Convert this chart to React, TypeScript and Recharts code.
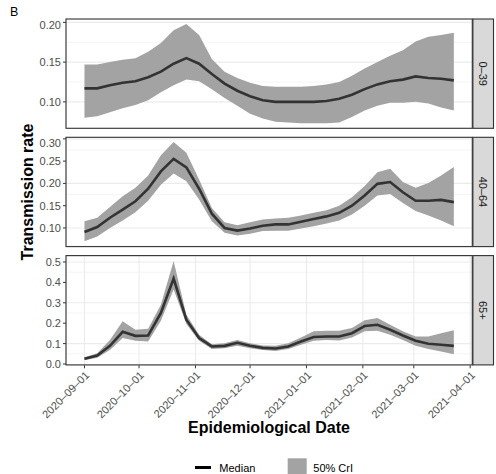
import { ComposedChart, Area, Line, XAxis, YAxis, CartesianGrid } from 'recharts';

// weekly estimates, 2020-09-01 .. 2021-03-23
const dates = [
  '2020-09-01', '2020-09-08', '2020-09-15', '2020-09-22', '2020-09-29', '2020-10-06',
  '2020-10-13', '2020-10-20', '2020-10-27', '2020-11-03', '2020-11-10', '2020-11-17',
  '2020-11-24', '2020-12-01', '2020-12-08', '2020-12-15', '2020-12-22', '2020-12-29',
  '2021-01-05', '2021-01-12', '2021-01-19', '2021-01-26', '2021-02-02', '2021-02-09',
  '2021-02-16', '2021-02-23', '2021-03-02', '2021-03-09', '2021-03-16', '2021-03-23',
];
const monthTicks = [
  '2020-09-01', '2020-10-01', '2020-11-01', '2020-12-01',
  '2021-01-01', '2021-02-01', '2021-03-01', '2021-04-01',
];

const median0to39 = [0.117, 0.117, 0.121, 0.124, 0.126, 0.131, 0.138, 0.148, 0.155, 0.148, 0.135, 0.123, 0.114, 0.107, 0.102, 0.100, 0.100, 0.100, 0.100, 0.101, 0.104, 0.109, 0.116, 0.122, 0.126, 0.128, 0.132, 0.130, 0.129, 0.127];
const upper0to39 = [0.147, 0.147, 0.150, 0.153, 0.155, 0.163, 0.174, 0.190, 0.198, 0.184, 0.154, 0.138, 0.130, 0.124, 0.120, 0.119, 0.119, 0.119, 0.120, 0.122, 0.125, 0.133, 0.142, 0.150, 0.158, 0.165, 0.176, 0.182, 0.184, 0.187];
const lower0to39 = [0.080, 0.082, 0.087, 0.092, 0.096, 0.102, 0.112, 0.121, 0.128, 0.126, 0.116, 0.105, 0.095, 0.085, 0.079, 0.075, 0.074, 0.073, 0.073, 0.073, 0.074, 0.081, 0.089, 0.095, 0.099, 0.099, 0.100, 0.098, 0.093, 0.089];

const median40to64 = [0.091, 0.102, 0.123, 0.141, 0.160, 0.188, 0.227, 0.255, 0.236, 0.188, 0.132, 0.100, 0.094, 0.099, 0.105, 0.108, 0.108, 0.114, 0.120, 0.126, 0.134, 0.150, 0.173, 0.199, 0.203, 0.180, 0.161, 0.161, 0.163, 0.158];
const upper40to64 = [0.115, 0.123, 0.147, 0.171, 0.190, 0.218, 0.263, 0.293, 0.269, 0.209, 0.145, 0.113, 0.106, 0.113, 0.119, 0.121, 0.123, 0.128, 0.134, 0.140, 0.150, 0.169, 0.194, 0.225, 0.233, 0.203, 0.190, 0.201, 0.218, 0.237];
const lower40to64 = [0.070, 0.081, 0.100, 0.117, 0.135, 0.161, 0.197, 0.222, 0.205, 0.164, 0.115, 0.089, 0.083, 0.087, 0.093, 0.094, 0.094, 0.099, 0.104, 0.110, 0.117, 0.130, 0.150, 0.173, 0.176, 0.156, 0.138, 0.128, 0.117, 0.104];

const median65plus = [0.026, 0.041, 0.089, 0.158, 0.138, 0.140, 0.250, 0.419, 0.217, 0.127, 0.086, 0.089, 0.104, 0.089, 0.079, 0.076, 0.086, 0.110, 0.132, 0.135, 0.135, 0.151, 0.186, 0.192, 0.168, 0.140, 0.114, 0.099, 0.094, 0.089];
const upper65plus = [0.033, 0.053, 0.118, 0.209, 0.168, 0.173, 0.291, 0.505, 0.242, 0.143, 0.097, 0.102, 0.118, 0.102, 0.091, 0.089, 0.102, 0.130, 0.160, 0.163, 0.163, 0.176, 0.214, 0.225, 0.192, 0.160, 0.135, 0.135, 0.151, 0.165];
const lower65plus = [0.018, 0.031, 0.069, 0.127, 0.114, 0.110, 0.212, 0.365, 0.196, 0.114, 0.074, 0.077, 0.090, 0.077, 0.069, 0.064, 0.074, 0.094, 0.114, 0.118, 0.115, 0.130, 0.160, 0.163, 0.143, 0.118, 0.090, 0.074, 0.061, 0.048];

const FONT = '"Liberation Sans", Arial, Helvetica, sans-serif';
const BAND = '#A3A3A3';

const xs = dates.map(d => Date.parse(d));
const xTicks = monthTicks.map(d => Date.parse(d));
const xSpan = xs[xs.length - 1] - xs[0];
// ggplot-style 5% expansion
const xDomain = [xs[0] - 0.05 * xSpan, xs[xs.length - 1] + 0.05 * xSpan];

function expand(lo: number[], hi: number[]) {
  const min = Math.min(...lo);
  const max = Math.max(...hi);
  const pad = (max - min) * 0.05;
  return [min - pad, max + pad];
}

const panels = [
  { label: '0–39', med: median0to39, lo: lower0to39, hi: upper0to39, ticks: [0.1, 0.15, 0.2], minor: [0.075, 0.125, 0.175], digits: 2 },
  { label: '40–64', med: median40to64, lo: lower40to64, hi: upper40to64, ticks: [0.1, 0.15, 0.2, 0.25, 0.3], minor: [0.075, 0.125, 0.175, 0.225, 0.275], digits: 2 },
  { label: '65+', med: median65plus, lo: lower65plus, hi: upper65plus, ticks: [0, 0.1, 0.2, 0.3, 0.4, 0.5], minor: [0.05, 0.15, 0.25, 0.35, 0.45], digits: 1 },
];

const PLOT_LEFT = 66;
const PLOT_W = 406.3;
const PLOT_H = 109.3;
const AXIS_W = 40;
const RIGHT_PAD = 16;
const tops = [19, 137.3, 255.6];

const fmtDate = (v: number) => new Date(v).toISOString().slice(0, 10).replace(/-/g, '–');

const DateTick = ({ x, y, payload }: any) => (
  <g transform={`translate(${x},${y})`}>
    <text textAnchor="end" dy="0.71em" transform="rotate(-45)" fontSize={11} fill="#4D4D4D" fontFamily={FONT}>
      {fmtDate(payload.value)}
    </text>
  </g>
);

function Panel({ p, top, bottom }: any) {
  const rows = xs.map((t, i) => ({ t, band: [p.lo[i], p.hi[i]], med: p.med[i] }));
  const xAxisH = bottom ? 80 : 0;
  return (
    <div style={{ position: 'absolute', left: PLOT_LEFT - AXIS_W, top }}>
      <ComposedChart
        width={AXIS_W + PLOT_W + RIGHT_PAD}
        height={PLOT_H + xAxisH}
        data={rows}
        margin={{ top: 0, right: RIGHT_PAD, bottom: 0, left: 0 }}
      >
        <CartesianGrid horizontalValues={p.minor} vertical={false} stroke="#EBEBEB" strokeWidth={0.55} />
        <CartesianGrid stroke="#EBEBEB" strokeWidth={1.1} />
        <XAxis
          dataKey="t"
          type="number"
          domain={xDomain}
          ticks={xTicks}
          interval={0}
          height={xAxisH}
          axisLine={false}
          tick={bottom ? (props: any) => <DateTick {...props} /> : false}
          tickLine={bottom ? { stroke: '#333333' } : false}
          tickSize={3}
          tickMargin={2}
        />
        <YAxis
          type="number"
          domain={expand(p.lo, p.hi)}
          ticks={p.ticks}
          tickFormatter={(v: number) => v.toFixed(p.digits)}
          width={AXIS_W}
          axisLine={false}
          tickLine={{ stroke: '#333333' }}
          tickSize={3}
          tickMargin={2}
          tick={{ fontSize: 11, fill: '#4D4D4D', fontFamily: FONT }}
        />
        <Area dataKey="band" type="linear" stroke="none" fill={BAND} fillOpacity={1} isAnimationActive={false} />
        <Line dataKey="med" type="linear" stroke="#333333" strokeWidth={2.6} dot={false} isAnimationActive={false} />
      </ComposedChart>
    </div>
  );
}

export default function App() {
  return (
    <div style={{ position: 'absolute', left: 0, top: 0, width: 496, height: 474, background: '#fff', fontFamily: FONT }}>
      {panels.map((p, i) => (
        <Panel key={p.label} p={p} top={tops[i]} bottom={i === panels.length - 1} />
      ))}
      <svg width={496} height={474} style={{ position: 'absolute', left: 0, top: 0, pointerEvents: 'none' }} fontFamily={FONT}>
        <text x={10} y={15.7} fontSize={12.5} fill="#000">B</text>
        {panels.map((p, i) => (
          <g key={p.label}>
            <rect x={PLOT_LEFT} y={tops[i]} width={PLOT_W} height={PLOT_H} fill="none" stroke="#333333" strokeWidth={1.1} />
            <rect x={PLOT_LEFT + PLOT_W + 0.6} y={tops[i]} width={20.6} height={PLOT_H} fill="#D9D9D9" stroke="#333333" strokeWidth={1.1} />
            <text
              transform={`translate(${PLOT_LEFT + PLOT_W + 10.9},${tops[i] + PLOT_H / 2}) rotate(90)`}
              textAnchor="middle"
              dy="0.35em"
              fontSize={11}
              fill="#1A1A1A"
            >
              {p.label}
            </text>
          </g>
        ))}
        <text transform="translate(32.5,192) rotate(-90)" textAnchor="middle" fontSize={16} fontWeight="bold" fill="#000">
          Transmission rate
        </text>
        <text x={269} y={433} textAnchor="middle" fontSize={16} fontWeight="bold" fill="#000">
          Epidemiological Date
        </text>
        <line x1={195} x2={211} y1={467.5} y2={467.5} stroke="#000" strokeWidth={3} />
        <text x={219.3} y={471.5} fontSize={11} fill="#000">Median</text>
        <rect x={287.7} y={458.3} width={19} height={19} fill={BAND} />
        <text x={313.3} y={471.5} fontSize={11} fill="#000">50% CrI</text>
      </svg>
    </div>
  );
}
